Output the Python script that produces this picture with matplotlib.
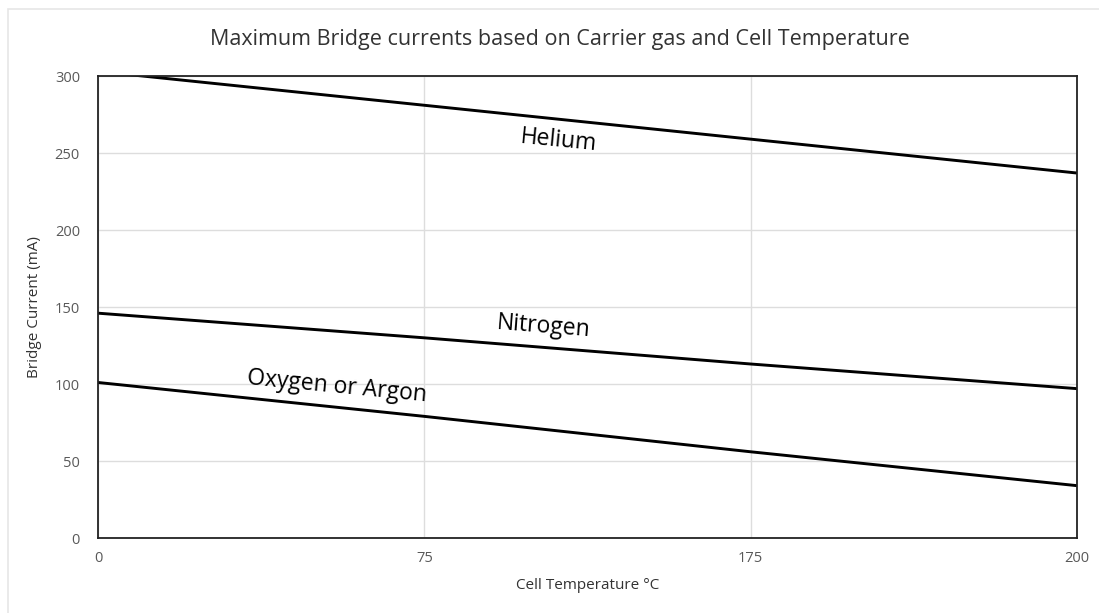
import matplotlib.pyplot as plt
from matplotlib.patches import Rectangle

# temperatures are shown as evenly spaced categories
temps = ['0', '75', '175', '200']
helium = [303, 281, 259, 237]
nitrogen = [146, 130, 113, 97]
oxygen_argon = [101, 79, 56, 34]

plt.rcParams['font.family'] = ['Open Sans', 'DejaVu Sans']

fig = plt.figure(figsize=(10.99, 6.13), dpi=100)
fig.patches.append(Rectangle((8 / 1099, -0.1), 1.2, 1 - 9 / 613 + 0.1,
                             transform=fig.transFigure, fill=False,
                             edgecolor='#e6e6e6', linewidth=1.2))

ax = fig.add_axes([0.0892, 0.1223, 0.8908, 0.7537])
pos = range(len(temps))

for vals in (helium, nitrogen, oxygen_argon):
    ax.plot(pos, vals, color='black', linewidth=2.1, solid_capstyle='butt')

ax.set_xlim(0, len(temps) - 1)
ax.set_ylim(0, 300)
ax.set_xticks(list(pos))
ax.set_xticklabels(temps)
ax.set_yticks(range(0, 301, 50))
ax.grid(True, color='#dddddd', linewidth=1)
ax.set_axisbelow(True)
ax.tick_params(length=0, labelsize=10.5, labelcolor='#595959')
ax.tick_params(axis='y', pad=13)
ax.tick_params(axis='x', pad=9)
for s in ax.spines.values():
    s.set_color('#222222')
    s.set_linewidth(1.3)

# line labels
ax.text(1.41, 258, 'Helium', fontsize=16.5, rotation=-5.5, ha='center', va='center')
ax.text(1.364, 137, 'Nitrogen', fontsize=16.5, rotation=-4.5, ha='center', va='center')
ax.text(0.732, 98, 'Oxygen or Argon', fontsize=16.5, rotation=-5.5, ha='center', va='center')

ax.set_xlabel('Cell Temperature °C', fontsize=11, color='#333333', labelpad=9)
ax.set_ylabel('Bridge Current (mA)', fontsize=11, color='#333333', labelpad=9)
fig.text(0.509, 1 - 40 / 613, 'Maximum Bridge currents based on Carrier gas and Cell Temperature',
         fontsize=15.5, color='#333333', ha='center', va='center')

fig.savefig('out.png', dpi=100)
